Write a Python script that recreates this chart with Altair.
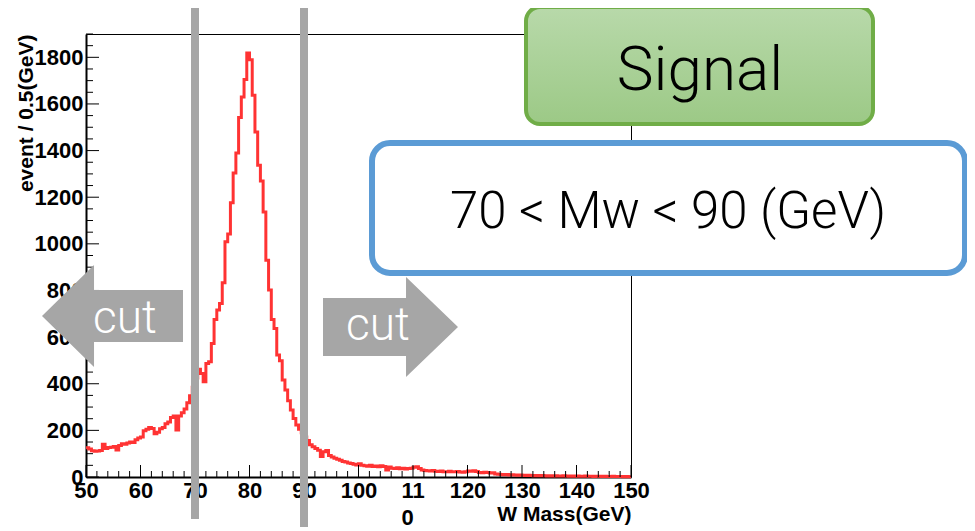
import altair as alt
import pandas as pd

# ---------------- data ----------------
x_start = 50.0
bin_width = 0.5
counts = (
    [125, 120, 113, 110, 112, 114, 140, 122, 126, 128, 131, 116, 135, 143, 140, 146, 150, 148, 160, 167]      # 50-59.5
    + [172, 198, 205, 212, 208, 186, 192, 207, 212, 228, 236, 255, 262, 202, 262, 276, 292, 318, 348, 385]   # 60-69.5
    + [425, 462, 444, 409, 487, 494, 573, 676, 716, 744, 833, 1009, 1042, 1176, 1304, 1390, 1542, 1630, 1705, 1819]  # 70-79.5
    + [1790, 1637, 1480, 1337, 1270, 1137, 930, 802, 676, 637, 523, 499, 416, 373, 327, 287, 251, 223, 205, 190]     # 80-89.5
    + [172, 157, 138, 130, 122, 115, 88, 108, 114, 92, 86, 80, 76, 72, 67, 64, 60, 58, 55, 52]               # 90-99.5
    + [57, 50, 48, 46, 50, 45, 47, 44, 48, 45, 30, 43, 38, 36, 40, 35, 37, 34, 36, 38]                       # 100-109.5
    + [42, 44, 36, 30, 28, 27, 26, 28, 25, 24, 26, 23, 22, 25, 23, 22, 24, 21, 20, 22]                       # 110-119.5
    + [26, 25, 27, 24, 19, 18, 20, 19, 17, 18, 13, 12, 11, 10, 11, 9, 10, 9, 8, 9]                           # 120-129.5
    + [7, 6, 7, 6, 5, 6, 5, 6, 5, 4, 5, 4, 5, 4, 4, 5, 4, 3, 4, 3]                                           # 130-139.5
    + [4, 3, 3, 4, 3, 3, 2, 3, 3, 2, 3, 2, 2, 3, 2, 2, 2, 1, 2, 1]                                           # 140-149.5
)
bin_edges = [x_start + bin_width * i for i in range(len(counts))]

x_major = [50, 60, 70, 80, 90, 100, 110, 120, 130, 140, 150]
x_minor = [v for v in range(50, 151, 2) if v % 10]
y_major = [0, 200, 400, 600, 800, 1000, 1200, 1400, 1600, 1800]
y_minor = [v for v in range(0, 1901, 50) if v % 200]
cuts = [70, 90]

x_title = "W Mass(GeV)"
y_title = "event / 0.5(GeV)"
signal_text = "Signal"
window_text = "70 < Mw < 90 (GeV)"
cut_text = "cut"

# ---------------- chart ----------------
W, H = 545, 443
FONT = "Liberation Sans"
LIGHT = "Roboto"
RED = "#ff3333"
GREY = "#a6a6a6"

hist = pd.DataFrame({"mass": bin_edges + [150.0], "events": counts + [counts[-1]]})

xscale = alt.Scale(domain=[50, 150], nice=False, zero=False)
yscale = alt.Scale(domain=[0, 1900], nice=False)

xaxis = alt.Axis(
    values=x_major, ticks=False, grid=False, domainColor="black", domainWidth=2,
    labelFont=FONT, labelFontWeight="bold", labelFontSize=22, labelColor="black",
    labelPadding=3, labelFlush=False, labelOverlap=False, format="d",
    labelExpr="datum.value == 110 ? ['11', '0'] : datum.label",
    labelLineHeight=27,
    labelAlign={"condition": {"test": "datum.value == 110", "value": "left"}, "value": "center"},
    labelOffset={"condition": {"test": "datum.value == 110", "value": -12}, "value": 0},
    titleFont=FONT, titleFontWeight="bold", titleFontSize=21, titleColor="black",
    titleX=W, titleY=43, titleAlign="right", titleAnchor="end", titleBaseline="alphabetic",
)
yaxis = alt.Axis(
    values=y_major, ticks=False, grid=False, domainColor="black", domainWidth=2,
    labelFont=FONT, labelFontWeight="bold", labelFontSize=22, labelColor="black",
    labelPadding=3, labelFlush=False, labelOverlap=False, format="d",
    titleFont=FONT, titleFontWeight="bold", titleFontSize=21, titleColor="black",
    titleX=-60, titleY=0, titleAngle=270, titleAlign="right", titleBaseline="middle",
)

X = alt.X("mass:Q", scale=xscale, axis=xaxis, title=x_title)
Y = alt.Y("events:Q", scale=yscale, axis=yaxis, title=y_title)

line = alt.Chart(hist).mark_line(
    interpolate="step-after", color=RED, strokeWidth=3
).encode(x=X, y=Y)

xmaj = alt.Chart(pd.DataFrame({"mass": x_major})).mark_rule(color="black", strokeWidth=1).encode(
    x=X, y=alt.value(H), y2=alt.value(H - 12))
xmin = alt.Chart(pd.DataFrame({"mass": x_minor})).mark_rule(color="black", strokeWidth=1).encode(
    x=X, y=alt.value(H), y2=alt.value(H - 6))
ymaj = alt.Chart(pd.DataFrame({"events": y_major})).mark_rule(color="black", strokeWidth=1).encode(
    y=Y, x=alt.value(0), x2=alt.value(13))
ymin = alt.Chart(pd.DataFrame({"events": y_minor})).mark_rule(color="black", strokeWidth=1).encode(
    y=Y, x=alt.value(0), x2=alt.value(7))

bar_lo = alt.Chart(pd.DataFrame({"mass": [cuts[0]]})).mark_rule(color=GREY, strokeWidth=8).encode(
    x=X, y=alt.value(-29), y2=alt.value(485))
bar_hi = alt.Chart(pd.DataFrame({"mass": [cuts[1]]})).mark_rule(color=GREY, strokeWidth=8).encode(
    x=X, y=alt.value(-26), y2=alt.value(493))

one = pd.DataFrame({"k": [0]})
left_arrow_path = "M-1,0L-0.262,-0.723L-0.262,-0.369L1,-0.369L1,0.369L-0.262,0.369L-0.262,0.723Z"
right_arrow_path = "M1,0L0.23,-0.741L0.23,-0.43L-1,-0.43L-1,0.43L0.23,0.43L0.23,0.741Z"

arrow_l = alt.Chart(one).mark_point(
    shape=left_arrow_path, size=141 * 141, filled=True, color=GREY, opacity=1, strokeWidth=0
).encode(x=alt.value(26.5), y=alt.value(282))
arrow_r = alt.Chart(one).mark_point(
    shape=right_arrow_path, size=135 * 135, filled=True, color=GREY, opacity=1, strokeWidth=0
).encode(x=alt.value(304.5), y=alt.value(293))

cut_l = alt.Chart(one).mark_text(
    text=cut_text, font=LIGHT, fontWeight=300, fontSize=46, color="white", align="center", baseline="alphabetic"
).encode(x=alt.value(39), y=alt.value(299))
cut_r = alt.Chart(one).mark_text(
    text=cut_text, font=LIGHT, fontWeight=300, fontSize=46, color="white", align="center", baseline="alphabetic"
).encode(x=alt.value(292), y=alt.value(306))

green = alt.LinearGradient(
    gradient="linear",
    stops=[alt.GradientStop(color="#b8d9aa", offset=0), alt.GradientStop(color="#9cc986", offset=1)],
    x1=0, x2=0, y1=0, y2=1,
)
signal_box = alt.Chart(one).mark_rect(
    fill=green, stroke="#70ad47", strokeWidth=4, cornerRadius=14
).encode(x=alt.value(440), x2=alt.value(787), y=alt.value(-27), y2=alt.value(90))
signal_lbl = alt.Chart(one).mark_text(
    text=signal_text, font=LIGHT, fontWeight=300, fontSize=62, color="black", align="center", baseline="alphabetic"
).encode(x=alt.value(614), y=alt.value(56))

window_box = alt.Chart(one).mark_rect(
    fill="white", stroke="#5b9bd5", strokeWidth=6, cornerRadius=18
).encode(x=alt.value(286), x2=alt.value(879), y=alt.value(109), y2=alt.value(239))
window_lbl = alt.Chart(one).mark_text(
    text=window_text, font=LIGHT, fontWeight=300, fontSize=51, color="black", align="center", baseline="alphabetic"
).encode(x=alt.value(582), y=alt.value(194))

chart = alt.layer(
    line, xmaj, xmin, ymaj, ymin, bar_lo, bar_hi, arrow_l, arrow_r, cut_l, cut_r,
    signal_box, signal_lbl, window_box, window_lbl,
).properties(
    width=W, height=H,
    autosize=alt.AutoSizeParams(type="none"),
    padding={"left": 78, "top": 26, "right": 336, "bottom": 53},
    background="white",
).configure_view(stroke="black", strokeWidth=1)

chart.save("out.html", embed_options={"renderer": "svg", "actions": False})
